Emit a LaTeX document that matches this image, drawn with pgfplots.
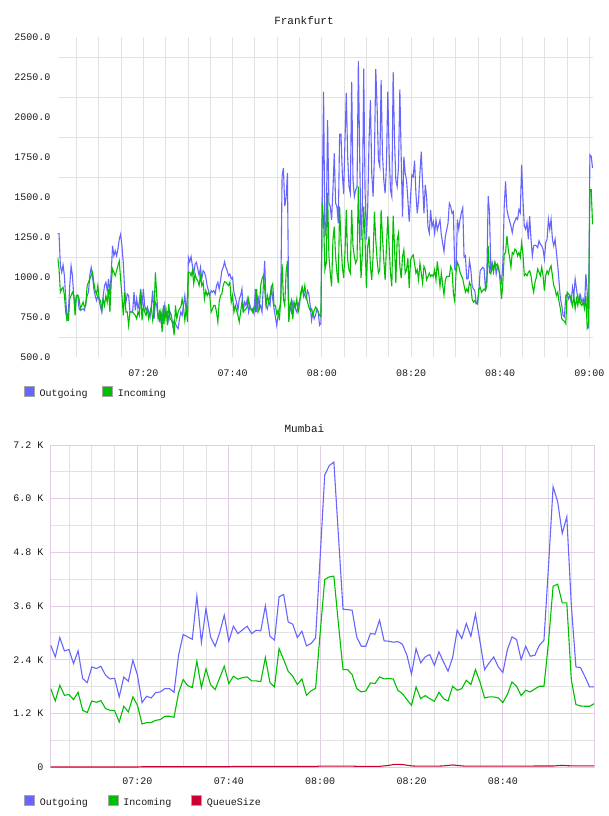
\documentclass[border=0pt]{standalone}
\usepackage{fontspec}
\setmainfont{Liberation Mono}
\usepackage{pgfplots}
\usepackage{pgfplotstable}
\pgfplotsset{compat=1.18}
\definecolor{outc}{RGB}{102,102,255}
\definecolor{inc}{RGB}{0,190,0}
\definecolor{qc}{RGB}{204,0,51}
\definecolor{fgrid}{RGB}{226,226,226}
\definecolor{mmaj}{RGB}{228,204,228}
\definecolor{mmin}{RGB}{226,226,226}
\definecolor{txt}{RGB}{25,25,25}

\pgfplotstableread{
m out in
0.8 1271 1122
1.1 1271 1050
1.4 1070 905
1.7 1029 925
2.0 1075 936
2.3 1008 888
2.6 863 781
2.9 739 729
3.2 781 729
3.5 946 863
3.8 1070 884
4.1 1008 905
4.4 884 884
4.7 822 760
5.0 884 884
5.3 884 888
5.6 801 863
5.9 791 801
6.2 797 822
6.5 801 843
6.8 791 812
7.1 843 822
7.4 884 946
7.7 905 967
8.0 1008 988
8.3 1060 1008
8.6 1008 1029
8.9 925 967
9.2 884 915
9.5 853 894
9.8 884 946
10.1 853 863
10.4 812 853
10.7 781 791
11.0 884 863
11.3 946 822
11.6 967 884
11.9 915 843
12.2 988 925
12.5 884 781
12.8 1029 967
13.1 1195 1050
13.4 1132 1029
13.7 1164 1008
14.0 1132 1039
14.3 1174 1070
14.6 1236 1101
14.9 1267 988
15.2 1195 884
15.5 1091 760
15.8 925 905
16.1 843 781
16.4 894 781
16.7 884 698
17.0 781 781
17.3 781 781
17.6 781 781
17.9 905 770
18.2 791 760
18.5 863 739
18.8 801 781
19.1 843 760
19.4 925 915
19.7 822 729
20.0 925 822
20.3 822 781
20.6 791 760
20.9 812 801
21.2 781 739
21.5 750 781
21.8 822 812
22.1 915 729
22.4 739 781
22.7 843 1029
23.0 822 884
23.3 739 760
23.6 781 729
23.9 729 781
24.2 781 656
24.5 708 822
24.8 822 729
25.1 760 791
25.4 781 698
25.7 729 832
26.0 781 739
26.3 760 729
26.6 698 708
26.9 729 636
27.2 708 822
27.5 688 739
27.8 677 781
28.1 739 801
28.4 781 812
28.7 760 863
29.0 822 812
29.3 884 729
29.6 781 801
29.9 884 720
30.1 1122 1029
30.4 1095 1030
30.7 1128 1008
31.0 1070 1039
31.3 1019 957
31.6 1081 1019
31.9 1091 988
32.2 1050 977
32.5 1008 946
32.8 1060 1008
33.1 988 946
33.4 1039 967
33.7 1029 863
34.0 998 915
34.3 946 884
34.6 915 905
34.9 884 884
35.2 915 781
35.5 905 801
35.8 915 822
36.1 894 822
36.4 946 781
36.7 967 719
37.0 925 843
37.3 977 884
37.6 1039 894
37.9 1060 946
38.2 1095 971
38.5 1060 967
38.8 1039 957
39.1 1008 946
39.4 1019 967
39.7 988 843
40.0 998 884
40.3 905 781
40.6 874 822
40.9 843 791
41.2 791 760
41.5 863 719
41.8 884 781
42.1 925 843
42.4 781 781
42.7 843 791
43.0 822 801
43.3 863 812
43.6 781 863
43.9 822 801
44.2 791 801
44.5 801 781
44.8 770 812
45.1 925 791
45.4 781 925
45.7 884 781
46.0 801 801
46.3 822 946
46.6 781 988
46.9 946 1008
47.2 1101 925
47.5 822 822
47.8 801 884
48.1 843 843
48.4 822 884
48.7 946 936
49.0 863 957
49.3 801 822
49.6 750 822
49.9 698 770
50.2 760 791
50.5 801 729
50.8 843 863
51.1 1629 1081
51.4 1681 863
51.7 1443 822
52.0 1495 1029
52.3 1650 1101
52.6 739 719
52.9 822 822
53.2 781 853
53.5 843 739
53.8 822 843
54.1 801 812
54.4 781 863
54.7 822 781
55.0 853 822
55.3 884 905
55.6 936 936
55.9 905 884
56.2 884 946
56.5 863 884
56.8 915 843
57.1 894 812
57.4 822 791
57.7 729 801
58.0 781 760
58.3 739 791
58.6 760 812
58.9 801 801
59.2 781 781
59.5 698 760
59.8 712 754
60.1 1461 1461
60.4 2158 1357
60.7 1253 1045
61.0 1315 1086
61.3 1981 1527
61.6 1461 1128
61.9 1440 1024
62.2 1357 941
62.5 1544 1232
62.8 1773 1315
63.1 1461 1128
63.4 1440 1024
63.7 1336 962
64.0 1893 1440
64.3 1893 1232
64.6 1648 1066
64.9 1519 993
65.2 1856 1149
65.5 2151 1419
65.8 1752 1107
66.1 1565 1045
66.4 1523 1024
66.7 2220 1419
67.0 1606 1190
67.3 1502 1128
67.6 1544 1086
67.9 1560 1107
68.2 2351 1565
68.5 1752 1232
68.8 1232 993
69.1 1440 1149
69.4 2303 1440
69.7 1544 1232
70.0 1236 930
70.3 1440 1190
70.6 1856 1253
70.9 2106 1066
71.2 1648 982
71.5 1502 1128
71.8 1752 1409
72.1 2299 1232
72.4 2064 1107
72.7 1731 1024
73.0 1690 1045
73.3 2230 1419
73.6 1773 1253
73.9 1606 1107
74.2 1523 982
74.5 1700 1190
74.8 2158 1378
75.1 1773 1190
75.4 1544 1024
75.7 1502 941
76.0 2282 1384
76.3 1856 1190
76.6 1606 962
76.9 1565 1232
77.2 1690 1274
77.5 2172 1066
77.8 1752 993
78.1 1378 1128
78.4 1752 1170
78.7 1648 1024
79.0 1606 1045
79.3 1482 1118
79.6 1346 930
79.9 1502 1107
80.2 1638 1128
80.5 1627 1138
80.8 1727 1086
81.1 1523 1024
81.4 1398 1045
81.7 1482 982
82.0 1648 1086
82.3 1783 1024
82.6 1586 962
82.9 1398 1066
83.2 1575 1045
83.5 1502 982
83.8 1315 1003
84.1 1274 1024
84.4 1419 1003
84.7 1315 1014
85.0 1346 1003
85.3 1274 1045
85.6 1357 982
85.9 1294 1097
86.2 1326 1024
86.5 1357 941
86.8 1263 1024
87.1 1211 951
87.4 1159 889
87.7 1253 982
88.0 1294 1003
88.3 1336 1003
88.6 1461 1003
88.9 1440 1066
89.2 1398 1045
89.5 1409 899
89.8 1050 850
90.1 1039 1029
90.4 1360 1091
90.7 1298 1070
91.0 1360 1029
91.3 1402 1008
91.6 1433 988
91.9 1122 946
92.2 1132 905
92.5 988 925
92.8 988 905
93.1 1102 967
93.4 1050 946
93.7 946 863
94.0 925 843
94.3 915 853
94.6 843 832
94.9 832 832
95.2 905 925
95.5 1039 936
95.8 1050 905
96.1 1060 915
96.4 1050 925
96.7 915 915
97.0 1008 946
97.3 1505 1195
97.6 1402 1029
97.9 1029 1019
98.2 1091 1070
98.5 1050 1029
98.8 1091 1091
99.1 1019 1070
99.4 1070 1081
99.7 1039 1050
100.0 1008 967
100.3 967 863
100.6 1091 967
100.9 1443 1143
101.2 1598 1153
101.5 1422 1257
101.8 1381 1174
102.1 1350 1122
102.4 1319 1060
102.7 1277 1153
103.0 1329 1143
103.3 1350 1174
103.6 1371 1164
103.9 1360 1132
104.2 1422 1153
104.5 1402 1122
104.8 1702 1215
105.1 1484 1143
105.4 1319 1008
105.7 1298 1019
106.0 1340 1008
106.3 1236 1029
106.6 1381 1039
106.9 1236 1008
107.2 1132 946
107.5 1195 905
107.8 1199 967
108.1 1195 998
108.4 1184 1050
108.7 1226 1029
109.0 1205 1008
109.3 1195 1060
109.6 1174 1008
109.9 1112 915
110.2 1215 1008
110.5 1236 1039
110.8 1360 1019
111.1 1298 1050
111.4 1360 1070
111.7 1236 1008
112.0 1195 946
112.3 1236 925
112.6 1153 884
112.9 1070 905
113.2 967 843
113.5 863 801
113.8 822 739
114.1 760 729
114.4 750 723
114.7 884 708
115.0 894 905
115.3 863 894
115.6 884 884
115.9 843 863
116.2 936 822
116.5 884 884
116.8 988 801
117.1 925 863
117.4 863 822
117.7 843 884
118.0 884 832
118.3 843 822
118.6 863 843
118.9 822 801
119.2 1019 884
119.5 905 681
119.8 677 708
120.1 1764 1546
120.4 1754 1546
120.7 1681 1329
}\frankfurt

\pgfplotstableread{
m out in q
1 2723 1753 0
2 2462 1477 0
3 2894 1828 0
4 2596 1604 0
5 2626 1619 0
6 2313 1507 0
7 2596 1671 0
8 1977 1268 0
9 1887 1216 0
10 2238 1477 0
11 2201 1447 0
12 2253 1485 0
13 2052 1306 0
14 1969 1268 0
15 1984 1261 0
16 1567 1007 0
17 2014 1358 0
18 1917 1231 0
19 2387 1567 0
20 2052 1380 0
21 1440 962 5
22 1582 992 5
23 1544 992 5
24 1664 1044 5
25 1679 1059 5
26 1753 1134 5
27 1753 1134 5
28 1671 1112 5
29 2499 1656 5
30 2962 1955 5
31 2910 1820 5
32 2857 1775 5
33 3820 2365 5
34 2783 1775 5
35 3544 2193 5
36 2909 1843 5
37 2700 1731 5
38 3006 1992 5
39 3394 2253 5
40 2812 1865 5
41 3148 2029 12
42 2984 1962 12
43 3066 1999 12
44 3148 2014 12
45 2984 1925 12
46 3059 1925 12
47 3044 1910 12
48 3603 2447 12
49 2924 1887 12
50 2835 1790 12
51 3805 2648 12
52 3857 2402 12
53 3245 2141 12
54 3193 2029 12
55 2894 1843 12
56 3036 1969 12
57 2708 1604 12
58 2760 1701 12
59 2887 1760 12
60 4700 3000 20
61 6530 4193 20
62 6740 4252 20
63 6820 4267 20
64 5170 3200 20
65 3529 2178 20
66 3518 2178 20
67 3506 2066 20
68 2909 1753 15
69 2700 1679 15
70 2700 1701 15
71 2984 1880 15
72 2969 1865 15
73 3282 2014 15
74 2820 1969 25
75 2812 1977 35
76 2790 1969 55
77 2805 1716 60
78 2745 1641 55
79 2499 1507 40
80 2074 1380 25
81 2648 1790 20
82 2328 1529 20
83 2462 1596 20
84 2514 1529 20
85 2275 1470 20
86 2574 1671 20
87 2350 1529 25
88 2141 1477 35
89 2447 1805 45
90 3059 1716 35
91 2872 1753 25
92 3208 1940 18
93 2924 1843 18
94 3417 2178 18
95 2798 1900 18
96 2178 1544 18
97 2328 1567 18
98 2462 1567 18
99 2238 1544 18
100 2111 1440 18
101 2626 1626 18
102 2909 1902 18
103 2850 1805 18
104 2402 1596 18
105 2700 1716 18
106 2477 1679 18
107 2499 1746 22
108 2723 1805 22
109 2835 1805 22
110 4500 2800 22
111 6266 4043 22
112 5931 4088 30
113 5222 3670 35
114 5595 3670 30
115 3600 1940 25
116 2238 1395 25
117 2223 1365 25
118 2014 1358 25
119 1790 1358 25
120 1790 1417 25
}\mumbai

\begin{document}
\begin{tikzpicture}
\useasboundingbox (0,0) rectangle (608pt,816pt);
\pgfplotsset{
  every axis title shift=0pt,
  every axis/.append style={
    scale only axis,
    font=\fontsize{10}{12}\selectfont,
    tick style={draw=none},
    major tick length=0pt, minor tick length=0pt,
    axis line style={draw=none},
    yticklabel style={anchor=east, inner sep=0pt, xshift=-7pt, text=txt},
    xticklabel style={anchor=north, inner sep=0pt, text=txt},
    title style={font=\fontsize{11}{13}\selectfont, text=txt, anchor=center, inner sep=0pt},
    legend cell align=left,
    legend image code/.code={\draw[#1, fill, draw=gray!70, line width=0.6pt] (0pt,-2.5pt) rectangle (10pt,7.5pt); \path (14.7pt,0pt);},
  },
}
% Frankfurt
\begin{axis}[
  at={(57.7pt,459pt)}, anchor=south west, width=535.3pt, height=320pt,
  xmin=0.8, xmax=120.8, ymin=500, ymax=2500,
  xtick={20,40,60,80,100,120},
  xticklabels={07:20,07:40,08:00,08:20,08:40,09:00},
  minor xtick={5,10,...,120},
  ytick={500,750,...,2500},
  yticklabels={500.0,750.0,1000.0,1250.0,1500.0,1750.0,2000.0,2250.0,2500.0},
  minor ytick={625,875,...,2375},
  xminorgrids=true, yminorgrids=true,
  minor grid style={fgrid, line width=0.8pt},
  xticklabel style={yshift=-12.5pt},
  title={Frankfurt}, title style={at={(0.4601,1)}, yshift=16.3pt},
  legend style={at={(-0.063,-0.1103)}, anchor=west, draw=none, fill=none, inner sep=0pt,
    legend columns=-1, nodes={inner sep=0pt, text=txt},
    /tikz/every even column/.append style={column sep=14.5pt}},
]
\addplot[outc, line width=1.1pt] table[x=m, y=out] {\frankfurt};
\addlegendentry{Outgoing}
\addplot[inc, line width=1.1pt] table[x=m, y=in] {\frankfurt};
\addlegendentry{Incoming}
\end{axis}
% Mumbai
\begin{axis}[
  at={(50.7pt,49pt)}, anchor=south west, width=543.5pt, height=322pt,
  xmin=1, xmax=120, ymin=0, ymax=7200,
  xtick={20,40,60,80,100},
  xticklabels={07:20,07:40,08:00,08:20,08:40},
  minor xtick={5,10,15,25,30,35,45,50,55,65,70,75,85,90,95,105,110,115},
  ytick={0,1200,...,7200},
  yticklabels={0,1.2 K,2.4 K,3.6 K,4.8 K,6.0 K,7.2 K},
  minor ytick={600,1800,...,6600},
  grid=both,
  major grid style={mmaj, line width=0.8pt},
  minor grid style={mmin, line width=0.8pt},
  axis line style={draw=mmaj, line width=0.8pt},
  xticklabel style={yshift=-11pt},
  title={Mumbai}, title style={at={(0.4668,1)}, yshift=16pt},
  legend style={at={(-0.0491,-0.1047)}, anchor=west, draw=none, fill=none, inner sep=0pt,
    legend columns=-1, nodes={inner sep=0pt, text=txt},
    /tikz/every even column/.append style={column sep=20pt}},
]
\addplot[outc, line width=1.1pt] table[x=m, y=out] {\mumbai};
\addlegendentry{Outgoing}
\addplot[inc, line width=1.1pt] table[x=m, y=in] {\mumbai};
\addlegendentry{Incoming}
\addplot[qc, line width=1.1pt] table[x=m, y=q] {\mumbai};
\addlegendentry{QueueSize}
\end{axis}
\end{tikzpicture}
\end{document}
